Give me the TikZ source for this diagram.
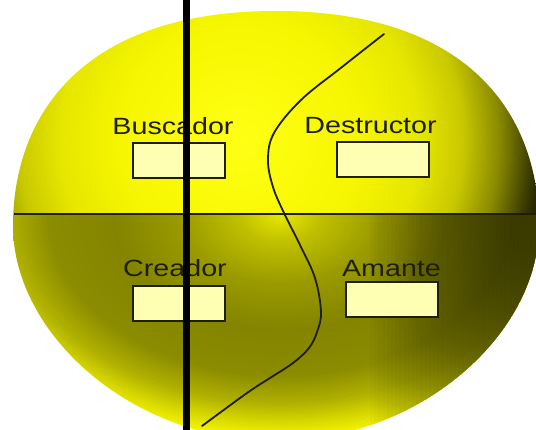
\documentclass[tikz,border=0pt]{standalone}
\usepackage{fontspec}
\setmainfont{Liberation Sans}
\definecolor{tA}{HTML}{FFFF14}
\definecolor{tB}{HTML}{F6F600}
\definecolor{tC}{HTML}{E6E600}
\definecolor{tD}{HTML}{C8C800}
\definecolor{tE}{HTML}{8A8A00}
\definecolor{tF}{HTML}{404000}
\definecolor{tG}{HTML}{262600}
\definecolor{bA}{HTML}{E8E800}
\definecolor{bB}{HTML}{C0C000}
\definecolor{bC}{HTML}{9A9A00}
\definecolor{bD}{HTML}{848400}
\definecolor{bE}{HTML}{8C8C00}
\definecolor{bF}{HTML}{B0B000}
\definecolor{bG}{HTML}{D8D800}
\definecolor{bH}{HTML}{F2F200}
\definecolor{bI}{HTML}{F8F800}
\definecolor{slotfill}{HTML}{FFFFB4}
\definecolor{inkc}{HTML}{1E1E04}
\definecolor{shadec}{HTML}{101000}
\pgfdeclareradialshading{topsh}{\pgfpoint{0bp}{0bp}}{color(0bp)=(tA); color(120bp)=(tB); color(180bp)=(tC); color(222bp)=(tD); color(258bp)=(tE); color(288bp)=(tF); color(300bp)=(tG); color(420bp)=(tG)}
\pgfdeclareradialshading{botsh}{\pgfpoint{0bp}{0bp}}{color(0bp)=(bA); color(40bp)=(bB); color(99bp)=(bC); color(165bp)=(bD); color(231bp)=(bE); color(270bp)=(bF); color(297bp)=(bG); color(317bp)=(bH); color(330bp)=(bI); color(600bp)=(bI)}
\newcommand{\stretchtxt}[1]{\scalebox{1.22}[1]{#1}}
\tikzset{
  lbl/.style={anchor=base, inner sep=0pt, text=inkc, font=\fontsize{23.5}{28}\selectfont},
  slot/.style={draw=inkc, line width=2pt, fill=slotfill, minimum width=92pt, minimum height=35pt, inner sep=0pt},
  divider/.style={draw=inkc, line width=2pt},
  sline/.style={draw=inkc, line width=1.8pt, line cap=round},
  bar/.style={draw=black, line width=7.5pt}
}
\begin{document}
\begin{tikzpicture}[x=1pt, y=-1pt]
\fill[white] (0,0) rectangle (536,430);
\useasboundingbox (0,0) rectangle (536,430);
% sphere shape
\def\sphere{(539,226) .. controls (539,118.5) and (473,11) .. (276,11)
  .. controls (79,11) and (13,118.5) .. (13,226)
  .. controls (13,333.5) and (131.4,441) .. (276,441)
  .. controls (420.6,441) and (539,333.5) .. (539,226) -- cycle}
\begin{scope}
  \clip \sphere;
  \begin{scope}
    \clip (0,0) rectangle (540,214);
    \pgftext[at={\pgfpointxy{240}{140}}]{\pgfuseshading{topsh}}
  \end{scope}
  \begin{scope}
    \clip (0,214) rectangle (540,445);
    \pgftext[at={\pgfpointxy{280}{214}}]{\scalebox{1}[0.697]{\pgfuseshading{botsh}}}
    \foreach \i in {0,...,39}{
      \pgfmathsetmacro{\xa}{370+4.2*\i}
      \fill[shadec, opacity=0.024] (\xa,214) rectangle (545,445);
    }
  \end{scope}
\end{scope}
% dividers
\coordinate (hl) at (14,214);
\coordinate (hr) at (536,214);
\draw[divider] (hl) -- (hr);
\draw[sline] plot[smooth, tension=0.6] coordinates {(384,34) (342,67) (301,100) (274,133) (268,160) (273,187) (284,213) (300,245) (315,278) (321,312) (317,332) (309,348) (293,363) (270,378) (247,393) (202,426)};
% slots
\node[slot] (sbus) at (179,160.5) {};
\node[slot] (sdes) at (383,160) {};
\node[slot] (scre) at (179,304) {};
\node[slot] (sama) at (391.5,300) {};
% labels
\node[lbl] (tbus) at (173,135) {\stretchtxt{Buscador}};
\node[lbl] (tdes) at (370.5,134) {\stretchtxt{Destructor}};
\node[lbl] (tcre) at (175,277) {\stretchtxt{Creador}};
\node[lbl] (tama) at (391.5,277) {\stretchtxt{Amante}};
% vertical bar
\coordinate (vt) at (186.5,0);
\coordinate (vb) at (186.5,430);
\draw[bar] (vt) -- (vb);
\end{tikzpicture}
\end{document}
